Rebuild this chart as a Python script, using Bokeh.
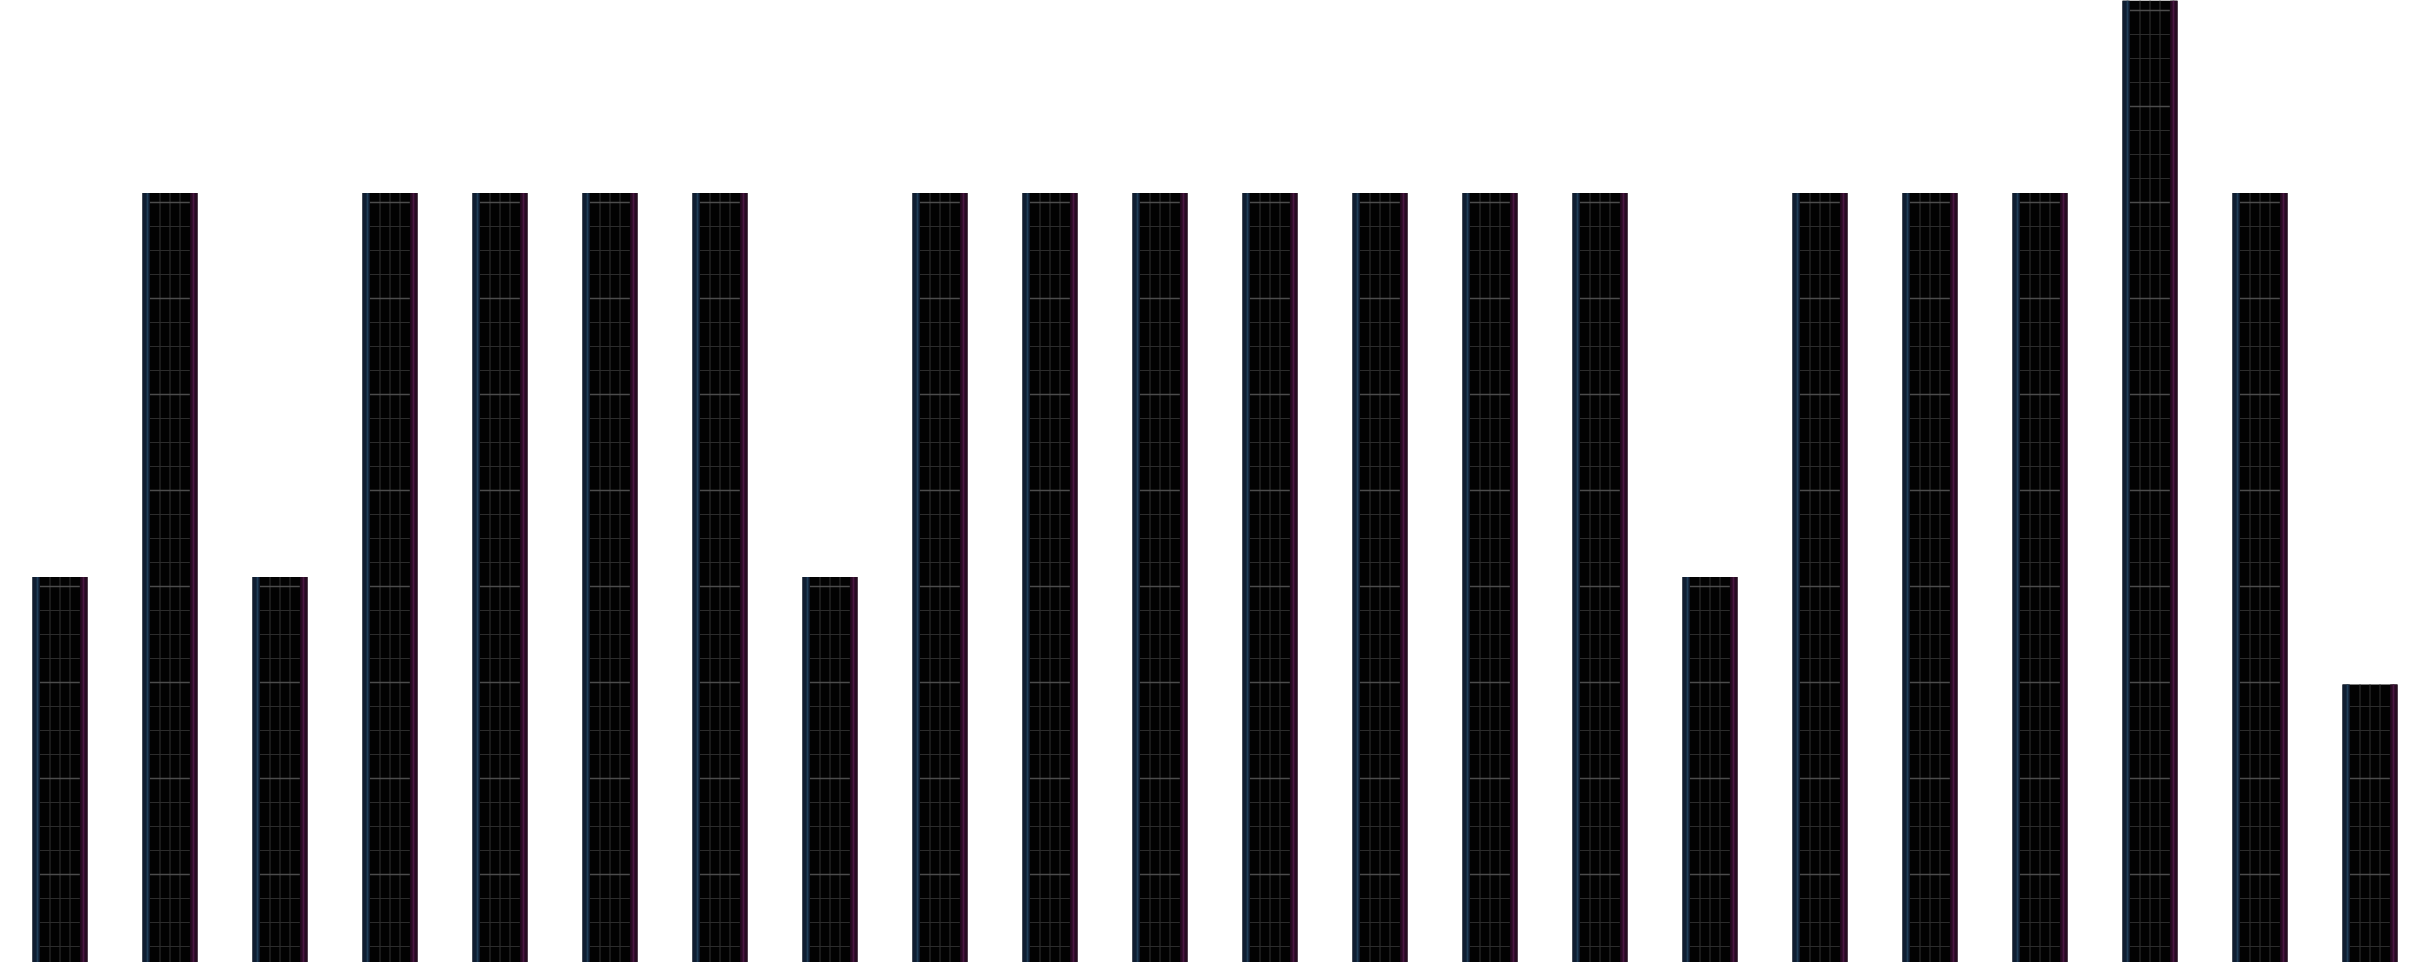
#!/usr/bin/python

from bokeh.plotting import figure
from bokeh.models import ColumnDataSource, Range1d
from bokeh.embed import file_html
from bokeh.resources import INLINE

# bar values (bar 20 runs out of the top)
categories = [str(i + 1) for i in range(22)]
values = [4.1, 8.1, 4.1, 8.1, 8.1, 8.1, 8.1, 4.1, 8.1, 8.1, 8.1,
          8.1, 8.1, 8.1, 8.1, 4.1, 8.1, 8.1, 8.1, 10.5, 8.1, 2.98]

y_min = 0.0833
y_max = 10.104

x = list(range(len(values)))

p = figure(width=2414, height=962, output_backend="svg", toolbar_location=None,
           x_range=Range1d(-0.5409, 21.4045), y_range=Range1d(y_min, y_max),
           min_border=0)
p.axis.visible = False
p.grid.visible = False
p.outline_line_color = None
p.background_fill_color = "white"
p.border_fill_color = "white"

src = ColumnDataSource(dict(x=x, top=values, cat=categories))

# black body of each bar
p.vbar(x='x', top='top', bottom=0, width=0.5, source=src,
       fill_color="#020202", line_color=None)

# texture inside the bars: thin columns every 10px, rows every quarter unit
vx0, vx1, vy0, vy1 = [], [], [], []
hx0, hx1, hy = [], [], []
bx0, bx1, by = [], [], []
for i, v in zip(x, values):
    top = min(v, y_max)
    for off in (-0.0909, 0.0, 0.0909):
        vx0.append(i + off)
        vx1.append(i + off)
        vy0.append(0)
        vy1.append(top)
    k = 1
    while k * 0.25 < top:
        lvl = k * 0.25
        if k % 4 == 0:
            bx0.append(i - 0.1836)
            bx1.append(i + 0.18)
            by.append(lvl)
        else:
            hx0.append(i - 0.1836)
            hx1.append(i + 0.18)
            hy.append(lvl)
        k += 1

p.segment(vx0, vy0, vx1, vy1, line_color="#2c2c2c", line_width=1.2)
p.segment(hx0, hy, hx1, hy, line_color="#2c2c2c", line_width=1.2)
p.segment(bx0, by, bx1, by, line_color="#4c4c4c", line_width=1.6)

# coloured edges: blue on the left, magenta on the right
left = [i - 0.2168 for i in x]
right = [i + 0.2168 for i in x]
p.vbar(x=left, top=values, bottom=0, width=0.0664, fill_color="#0f1d31", line_color=None)
p.vbar(x=[i - 0.2045 for i in x], top=values, bottom=0, width=0.016,
       fill_color="#1f3d57", line_color=None)
p.vbar(x=right, top=values, bottom=0, width=0.0664, fill_color="#260b21", line_color=None)
p.vbar(x=[i + 0.2136 for i in x], top=values, bottom=0, width=0.016,
       fill_color="#4a1742", line_color=None)

open("out.html", "w").write(file_html(p, INLINE))
